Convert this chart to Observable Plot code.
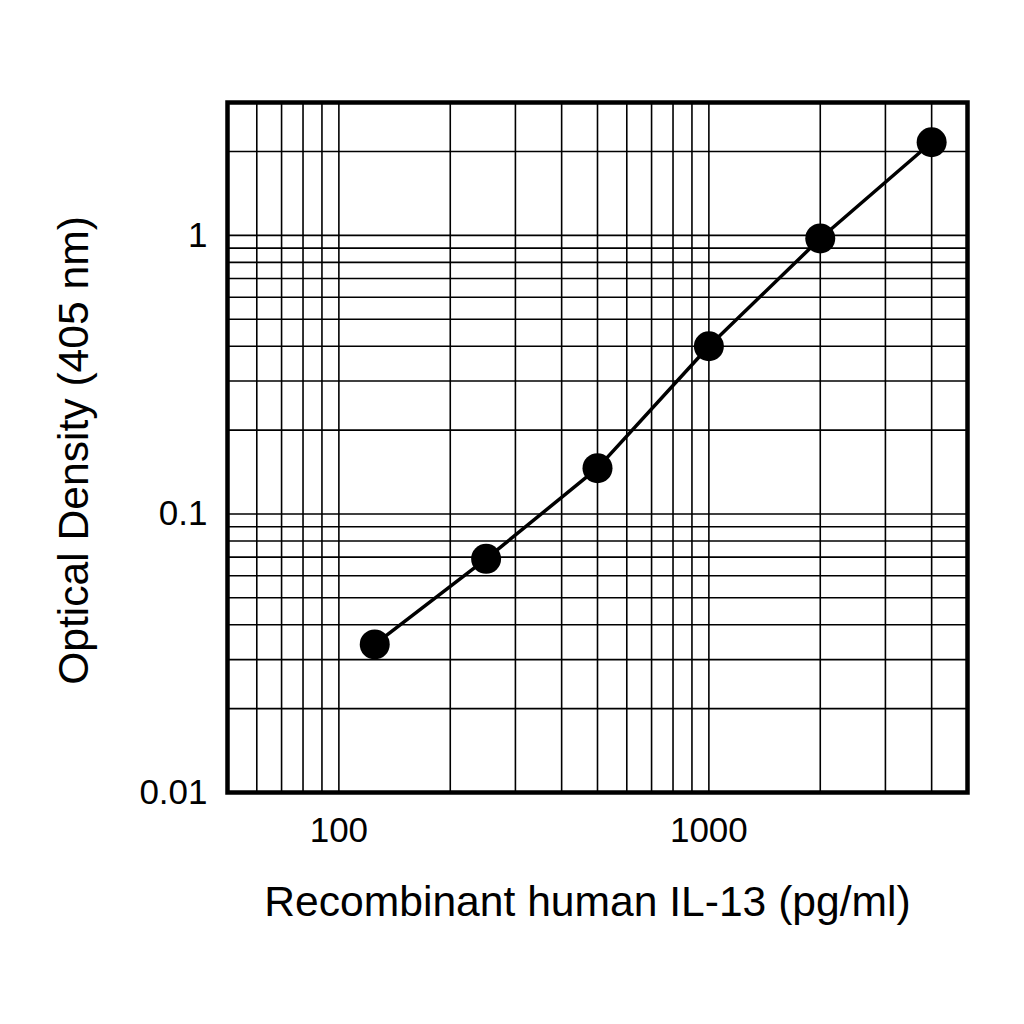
<!DOCTYPE html>
<html>
<head>
<meta charset="utf-8">
<script src="https://cdn.jsdelivr.net/npm/d3@7"></script>
<script src="https://cdn.jsdelivr.net/npm/@observablehq/plot@0.6"></script>
<style>
  html, body { margin: 0; padding: 0; background: #fff; }
</style>
</head>
<body>
<div id="chart"></div>
<script>
const concentration = [125, 250, 500, 1000, 2000, 4000];
const opticalDensity = [0.034, 0.069, 0.146, 0.40, 0.975, 2.16];
const xTicks = [100, 1000];
const yTicks = [0.01, 0.1, 1];
const xGrid = [60, 70, 80, 90, 100, 200, 300, 400, 500, 600, 700, 800, 900, 1000, 2000, 3000, 4000];
const yGrid = [0.02, 0.03, 0.04, 0.05, 0.06, 0.07, 0.08, 0.09, 0.1, 0.2, 0.3, 0.4, 0.5, 0.6, 0.7, 0.8, 0.9, 1, 2];
const xLabel = "Recombinant human IL-13 (pg/ml)";
const yLabel = "Optical Density (405 nm)";

const data = concentration.map((c, i) => ({x: c, y: opticalDensity[i]}));

const chart = Plot.plot({
  width: 1024,
  height: 1024,
  marginLeft: 227,
  marginRight: 57,
  marginTop: 102,
  marginBottom: 232,
  style: {fontFamily: "Liberation Sans, Arial, sans-serif", color: "#000", background: "#fff"},
  x: {type: "log", domain: [50, 5000]},
  y: {type: "log", domain: [0.01, 3]},
  marks: [
    Plot.ruleX(xGrid, {stroke: "#000", strokeWidth: 1.6, strokeOpacity: 1}),
    Plot.ruleY(yGrid, {stroke: "#000", strokeWidth: 1.6, strokeOpacity: 1}),
    Plot.axisX({ticks: xTicks, tickSize: 0, tickPadding: 25, fontSize: 35, label: null, tickFormat: d => String(d)}),
    Plot.axisY({ticks: yTicks, tickSize: 0, tickPadding: 20, fontSize: 35, label: null, tickFormat: d => String(d)}),
    Plot.frame({stroke: "#000", strokeWidth: 4.5}),
    Plot.line(data, {x: "x", y: "y", stroke: "#000", strokeWidth: 3.5}),
    Plot.dot(data, {x: "x", y: "y", r: 15, fill: "#000", stroke: "none"}),
    Plot.text([xLabel], {frameAnchor: "bottom", dx: -10, dy: 110, text: d => d, fontSize: 42.6, textAnchor: "middle", lineAnchor: "middle", fill: "#000"}),
    Plot.text([yLabel], {frameAnchor: "left", dx: -153, dy: 3, rotate: -90, text: d => d, fontSize: 42.6, textAnchor: "middle", lineAnchor: "middle", fill: "#000"})
  ]
});
document.getElementById("chart").appendChild(chart);
</script>
</body>
</html>
